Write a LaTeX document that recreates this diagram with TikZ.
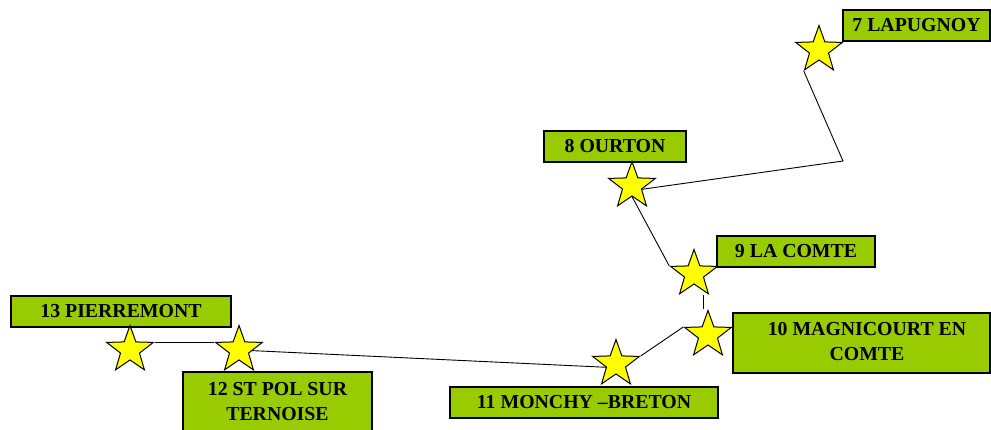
\documentclass[tikz,border=0pt]{standalone}
\usepackage{fontspec}
\setmainfont{Liberation Serif}
\usetikzlibrary{shapes.geometric,backgrounds}
\definecolor{labelgreen}{HTML}{99CC00}
\definecolor{staryellow}{HTML}{FFFF00}
\begin{document}
\begin{tikzpicture}[x=1pt,y=-1pt,
  town/.style={star, star points=5, star point ratio=2.45, minimum size=49pt,
    inner sep=0pt, draw=black, line width=1pt, fill=staryellow},
  tag/.style={draw=black, line width=1.3pt, fill=labelgreen, inner sep=0pt,
    minimum height=31pt, font=\bfseries\fontsize{19.8}{25}\selectfont, align=center},
  tagtext/.style={inner sep=0pt, font=\bfseries\fontsize{19.8}{25}\selectfont, align=center},
  route/.style={draw=black, line width=0.9pt}]
\clip (0,0) rectangle (991,430);

% place labels
\node[tag, minimum width=147pt] (b7) at (916.5,25.5) {7 LAPUGNOY};
\node[tag, minimum width=142pt] (b8) at (615,146.5) {8 OURTON};
\node[tag, minimum width=158pt] (b9) at (796,251.5) {9 LA COMTE};
\node[tag, minimum width=257pt, minimum height=60pt] (b10) at (861.5,343) {};
\node[tagtext] (t10) at (867,342) {10 MAGNICOURT EN\\COMTE};
\node[tag, minimum width=268pt] (b11) at (584,402.5) {11 MONCHY –BRETON};
\node[tag, minimum width=189pt, minimum height=60pt] (b12) at (277.5,402) {12 ST POL SUR\\TERNOISE};
\node[tag, minimum width=220pt] (b13) at (121,311.5) {13 PIERREMONT};

% stops along the route
\node[town] (s7) at (819,50) {};
\node[town] (s8) at (632,186) {};
\node[town] (s9) at (694,274) {};
\node[town] (s10) at (708,335) {};
\node[town] (s11) at (616,364) {};
\node[town] (s12) at (239,350) {};
\node[town] (s13) at (130,350) {};

% route segments
\coordinate (bend) at (843,161);
\coordinate (drop) at ([xshift=-5pt]s10.outer point 1);
\draw[route] (s7.outer point 3) -- (bend) -- (s8.inner point 4);
\draw[route] (s8.inner point 3) -- (s9.outer point 2);
\draw[route] (drop) -- (drop |- s9.outer point 4);
\draw[route] (s10.outer point 2) -- (s11.outer point 5);
\draw[route] (s12.outer point 2) -- (s13.outer point 5);
\begin{scope}[on background layer]
  \fill[white] (0,0) rectangle (991,430);
  \draw[route] (s11.inner point 2) -- (s12.center);
\end{scope}
\end{tikzpicture}
\end{document}
